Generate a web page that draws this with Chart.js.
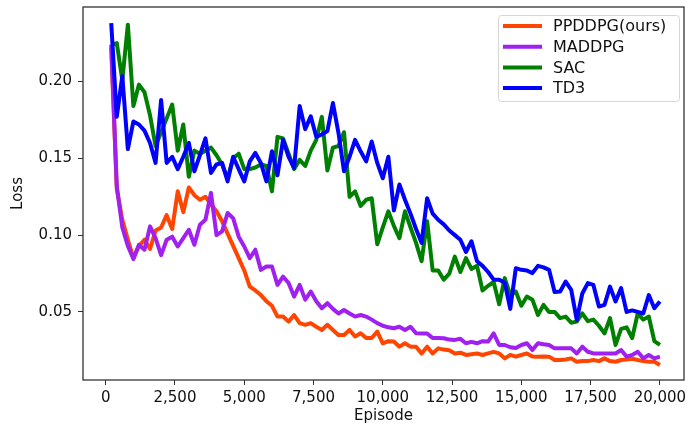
<!DOCTYPE html>
<html>
<head>
<meta charset="utf-8">
<title>Loss</title>
<script src="https://cdn.jsdelivr.net/npm/chart.js@4.4.0/dist/chart.umd.min.js"></script>
<style>
    html, body { margin: 0; padding: 0; background: #ffffff; }
    #lossChart { display: block; }
</style>
</head>
<body>
<canvas id="lossChart" width="690" height="428"></canvas>
<script>
// Loss per evaluation point (one point every 200 episodes)
const seriesNames = ['PPDDPG(ours)', 'MADDPG', 'SAC', 'TD3'];
const seriesColors = ['#ff4500', '#a020f0', '#008000', '#0000ff'];

const ppddpg = [
    0.222, 0.130, 0.110, 0.097, 0.085, 0.093, 0.097, 0.091, 0.103, 0.105,
    0.113, 0.104, 0.1285, 0.115, 0.131, 0.126, 0.123, 0.125, 0.120, 0.1155,
    0.109, 0.101, 0.093, 0.085, 0.077, 0.0665, 0.064, 0.061, 0.057, 0.054,
    0.047, 0.047, 0.0437, 0.048, 0.0427, 0.0416, 0.0427, 0.0404, 0.0383, 0.0416,
    0.0383, 0.035, 0.035, 0.0383, 0.034, 0.0361, 0.033, 0.033, 0.0372, 0.0296,
    0.031, 0.0307, 0.0274, 0.0296, 0.0274, 0.0274, 0.023, 0.0274, 0.023, 0.0263,
    0.0255, 0.025, 0.023, 0.0235, 0.022, 0.0225, 0.023, 0.022, 0.023, 0.024,
    0.023, 0.0198, 0.022, 0.0209, 0.022, 0.023, 0.021, 0.0209, 0.021, 0.0209,
    0.0187, 0.0187, 0.019, 0.0198, 0.0176, 0.018, 0.018, 0.0187, 0.018, 0.0198,
    0.018, 0.0176, 0.0187, 0.019, 0.0195, 0.0187, 0.018, 0.0176, 0.0176, 0.0155
];

const maddpg = [
    0.224, 0.132, 0.105, 0.093, 0.0844, 0.0937, 0.0905, 0.1057, 0.098, 0.087,
    0.097, 0.099, 0.0926, 0.098, 0.1035, 0.0937, 0.1068, 0.110, 0.1275, 0.100,
    0.1024, 0.1144, 0.111, 0.099, 0.0926, 0.085, 0.0905, 0.0774, 0.0796, 0.0796,
    0.0676, 0.073, 0.0688, 0.060, 0.0676, 0.058, 0.0633, 0.057, 0.0524, 0.0557,
    0.052, 0.049, 0.0513, 0.049, 0.047, 0.048, 0.047, 0.045, 0.0427, 0.041,
    0.040, 0.0394, 0.0404, 0.0383, 0.0404, 0.0361, 0.036, 0.036, 0.033, 0.033,
    0.0329, 0.032, 0.0318, 0.0325, 0.0296, 0.0305, 0.0296, 0.031, 0.0307, 0.036,
    0.0285, 0.0285, 0.027, 0.0265, 0.0285, 0.0296, 0.0252, 0.0296, 0.029, 0.0285,
    0.0263, 0.0263, 0.0263, 0.0263, 0.023, 0.0274, 0.0241, 0.023, 0.023, 0.023,
    0.023, 0.023, 0.0252, 0.0209, 0.022, 0.0241, 0.0198, 0.022, 0.0198, 0.0209
];

const sac = [
    0.224, 0.225, 0.201, 0.237, 0.184, 0.198, 0.193, 0.178, 0.158, 0.167,
    0.176, 0.185, 0.155, 0.172, 0.138, 0.155, 0.153, 0.155, 0.157, 0.152,
    0.146, 0.137, 0.150, 0.153, 0.143, 0.143, 0.144, 0.146, 0.145, 0.1285,
    0.164, 0.163, 0.153, 0.143, 0.149, 0.145, 0.155, 0.162, 0.177, 0.142,
    0.157, 0.158, 0.167, 0.125, 0.1285, 0.119, 0.123, 0.124, 0.094, 0.105,
    0.1155, 0.106, 0.098, 0.1155, 0.105, 0.095, 0.083, 0.109, 0.077, 0.077,
    0.071, 0.075, 0.086, 0.076, 0.085, 0.078, 0.080, 0.064, 0.067, 0.0695,
    0.055, 0.072, 0.061, 0.0633, 0.054, 0.060, 0.058, 0.048, 0.0546, 0.050,
    0.050, 0.046, 0.047, 0.043, 0.0437, 0.049, 0.044, 0.045, 0.041, 0.036,
    0.046, 0.0285, 0.039, 0.040, 0.033, 0.049, 0.045, 0.047, 0.031, 0.0285
];

const td3 = [
    0.238, 0.177, 0.2035, 0.156, 0.174, 0.172, 0.168, 0.160, 0.147, 0.188,
    0.147, 0.151, 0.143, 0.151, 0.160, 0.1415, 0.152, 0.163, 0.1405, 0.146,
    0.147, 0.135, 0.151, 0.143, 0.135, 0.148, 0.1535, 0.147, 0.135, 0.1546,
    0.139, 0.162, 0.151, 0.1438, 0.184, 0.169, 0.1774, 0.164, 0.1655, 0.1677,
    0.186, 0.1666, 0.1416, 0.151, 0.162, 0.1546, 0.148, 0.161, 0.147, 0.137,
    0.151, 0.116, 0.133, 0.123, 0.114, 0.104, 0.095, 0.124, 0.114, 0.110,
    0.107, 0.103, 0.100, 0.097, 0.089, 0.096, 0.083, 0.080, 0.076, 0.071,
    0.071, 0.069, 0.052, 0.0785, 0.0774, 0.077, 0.0753, 0.080, 0.079, 0.0774,
    0.063, 0.0633, 0.0698, 0.0644, 0.0448, 0.062, 0.0688, 0.0676, 0.0535, 0.0546,
    0.0665, 0.0568, 0.0655, 0.050, 0.051, 0.050, 0.049, 0.061, 0.0524, 0.0568
];

// Episodes 200, 400, ... 20000
const episodes = ppddpg.map((_, i) => (i + 1) * 200);

const xTicks = [0, 2500, 5000, 7500, 10000, 12500, 15000, 17500, 20000];
const yTicks = [0.05, 0.10, 0.15, 0.20];

const FONT = "'DejaVu Sans', sans-serif";
const AXIS_COLOR = '#333333';

// Full box round the plot area (matplotlib style frame)
const frame = {
    id: 'frame',
    afterDatasetsDraw(chart) {
        const { ctx, chartArea: a } = chart;
        ctx.save();
        ctx.strokeStyle = AXIS_COLOR;
        ctx.lineWidth = 1.3;
        ctx.strokeRect(a.left, a.top, a.right - a.left, a.bottom - a.top);
        ctx.restore();
    }
};

// Legend box in the upper right corner of the plot
const cornerLegend = {
    id: 'cornerLegend',
    afterDraw(chart) {
        const { ctx, chartArea: a } = chart;
        const w = 181, h = 86;
        const left = a.right - 5 - w;
        const top = a.top + 8;
        ctx.save();
        ctx.fillStyle = 'rgba(255,255,255,0.8)';
        ctx.strokeStyle = '#d6d6d6';
        ctx.lineWidth = 1;
        ctx.beginPath();
        ctx.roundRect(left + 0.5, top + 0.5, w, h, 3);
        ctx.fill();
        ctx.stroke();

        ctx.font = '16px ' + FONT;
        ctx.textBaseline = 'middle';
        ctx.textAlign = 'left';
        chart.data.datasets.forEach((ds, i) => {
            const rowY = top + 11 + i * 20.7;
            ctx.strokeStyle = ds.borderColor;
            ctx.lineWidth = 4;
            ctx.beginPath();
            ctx.moveTo(left + 5, rowY);
            ctx.lineTo(left + 44, rowY);
            ctx.stroke();
            ctx.fillStyle = '#111111';
            ctx.fillText(ds.label, left + 55, rowY + 1);
        });
        ctx.restore();
    }
};

const datasets = [ppddpg, maddpg, sac, td3].map((values, i) => ({
    label: seriesNames[i],
    data: values.map((v, j) => ({ x: episodes[j], y: v })),
    borderColor: seriesColors[i],
    backgroundColor: seriesColors[i],
    borderWidth: 4,
    borderJoinStyle: 'round',
    pointRadius: 0,
    tension: 0,
    fill: false,
    order: 3 - i  // later series are drawn on top
}));

const ctx = document.getElementById('lossChart');
new Chart(ctx, {
    type: 'line',
    data: { datasets: datasets },
    options: {
        responsive: false,
        animation: false,
        layout: { padding: { top: 7, right: 6, left: 0, bottom: 0 } },
        plugins: {
            legend: { display: false },
            tooltip: { enabled: false }
        },
        scales: {
            x: {
                type: 'linear',
                min: -819,
                max: 20870,
                afterFit: scale => {
                    scale.height = 48;
                    scale.paddingLeft = 0;
                    scale.paddingRight = 0;
                },
                afterBuildTicks: scale => { scale.ticks = xTicks.map(v => ({ value: v })); },
                border: { display: false },
                grid: {
                    drawOnChartArea: false,
                    drawTicks: true,
                    tickLength: 5,
                    color: AXIS_COLOR,
                    lineWidth: 1
                },
                ticks: {
                    padding: 4,
                    maxRotation: 0,
                    autoSkip: false,
                    color: '#111111',
                    font: { family: FONT, size: 15 },
                    callback: value => value.toLocaleString('en-US')
                },
                title: {
                    display: true,
                    text: 'Episode',
                    color: '#111111',
                    font: { family: FONT, size: 15 },
                    padding: { top: 0, bottom: 3 }
                }
            },
            y: {
                min: 0.0057,
                max: 0.2485,
                afterFit: scale => {
                    scale.width = 83;
                    scale.paddingTop = 0;
                    scale.paddingBottom = 0;
                },
                afterBuildTicks: scale => { scale.ticks = yTicks.map(v => ({ value: v })); },
                border: { display: false },
                grid: {
                    drawOnChartArea: false,
                    drawTicks: true,
                    tickLength: 5,
                    color: AXIS_COLOR,
                    lineWidth: 1
                },
                ticks: {
                    padding: 6,
                    color: '#111111',
                    font: { family: FONT, size: 15 },
                    callback: value => value.toFixed(2)
                },
                title: {
                    display: true,
                    text: 'Loss',
                    color: '#111111',
                    font: { family: FONT, size: 15 },
                    padding: { top: 9, bottom: 0 }
                }
            }
        }
    },
    plugins: [frame, cornerLegend]
});
</script>
</body>
</html>
